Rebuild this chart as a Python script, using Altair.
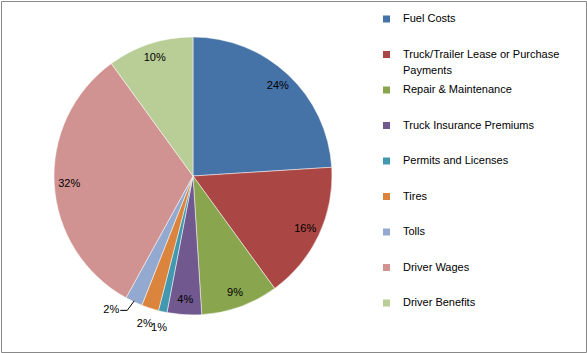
import altair as alt
import pandas as pd

categories = [
    "Fuel Costs",
    "Truck/Trailer Lease or Purchase Payments",
    "Repair & Maintenance",
    "Truck Insurance Premiums",
    "Permits and Licenses",
    "Tires",
    "Tolls",
    "Driver Wages",
    "Driver Benefits",
]
values = [24, 16, 9, 4, 1, 2, 2, 32, 10]
colors = ["#4572A7", "#AA4643", "#89A54E", "#71588F", "#4198AF",
          "#DB843D", "#93A9CF", "#D19392", "#B9CD96"]

df = pd.DataFrame({"category": categories, "value": values, "order": list(range(len(categories)))})

FONT = "Liberation Sans"
CX, CY, R = 192, 175, 139

color = alt.Color("category:N", scale=alt.Scale(domain=categories, range=colors), legend=None)

pie = alt.Chart(df).mark_arc(radius=R, stroke="white", strokeWidth=0.5).encode(
    theta=alt.Theta("value:Q", stack=True),
    order=alt.Order("order:Q"),
    color=color, x=alt.value(CX), y=alt.value(CY),
)

geo = alt.Chart(df).transform_window(
    cum="sum(value)", sort=[alt.SortField("order")], frame=[None, 0]
).transform_joinaggregate(total="sum(value)").transform_calculate(
    mid="(datum.cum - datum.value / 2) / datum.total * 2 * PI",
    pct="format(datum.value / 100, '.0%')",
    lr="datum.value >= 3 ? 124 : 156",
).transform_calculate(
    lx=f"{CX} + datum.lr * sin(datum.mid)",
    ly=f"{CY} - datum.lr * cos(datum.mid)",
    ex=f"{CX} + {R - 1} * sin(datum.mid)",
    ey=f"{CY} - {R - 1} * cos(datum.mid)",
).transform_calculate(
    bx="datum.ex - 7", by="datum.ey + 9.5", tx="datum.ex - 14",
)

labels = geo.transform_filter("datum.category != 'Tolls'").mark_text(
    font=FONT, fontSize=11, color="#000000", align="center", baseline="middle"
).encode(
    x=alt.X("lx:Q", scale=None, axis=None), y=alt.Y("ly:Q", scale=None, axis=None),
    text="pct:N",
)

lead = geo.transform_filter("datum.category == 'Tolls'")
rule1 = lead.mark_rule(color="#000000", strokeWidth=1).encode(
    x=alt.X("ex:Q", scale=None, axis=None), y=alt.Y("ey:Q", scale=None, axis=None),
    x2="bx:Q", y2="by:Q",
)
rule2 = lead.mark_rule(color="#000000", strokeWidth=1).encode(
    x=alt.X("bx:Q", scale=None, axis=None), y=alt.Y("by:Q", scale=None, axis=None),
    x2="tx:Q",
)
tolls_lab = lead.mark_text(font=FONT, fontSize=11, color="#000000", align="right",
                           baseline="middle", dx=-1).encode(
    x=alt.X("tx:Q", scale=None, axis=None), y=alt.Y("by:Q", scale=None, axis=None),
    text="pct:N",
)

leg = alt.Chart(df).encode(
    y=alt.Y("category:N", sort=categories,
            scale=alt.Scale(type="point", range=[18, 302], padding=0), axis=None)
)
sym = leg.mark_square(size=49, opacity=1).encode(x=alt.value(385.5), color=color)
txt = leg.transform_calculate(
    disp="length(datum.category) > 32 ? [slice(datum.category, 0, lastindexof(datum.category, ' ')), slice(datum.category, lastindexof(datum.category, ' ') + 1)] : datum.category"
).mark_text(font=FONT, fontSize=11, color="#000000", align="left", baseline="top",
            dy=-6, lineHeight=16).encode(x=alt.value(402), text="disp:N")

chart = alt.layer(pie, labels, rule1, rule2, tolls_lab).resolve_scale(
    x="independent", y="independent"
)
chart = alt.layer(chart, sym, txt).resolve_scale(x="independent", y="independent").properties(
    width=585, height=351, padding=1, background="white"
).configure_view(stroke="#888888", strokeWidth=1)

chart.save("out.html", embed_options={"renderer": "svg", "actions": False})
